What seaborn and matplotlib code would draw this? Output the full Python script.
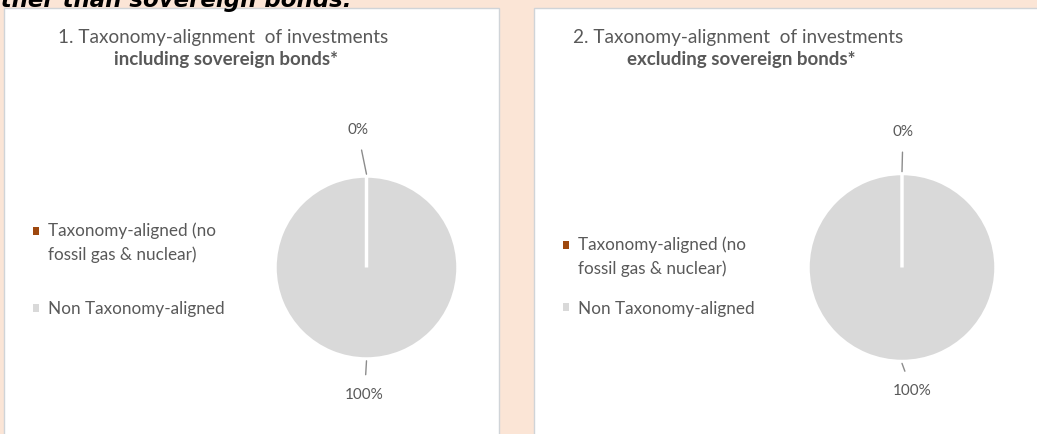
import matplotlib
matplotlib.use("Agg")
import matplotlib.pyplot as plt
from matplotlib.patches import Rectangle, Patch
import numpy as np
import seaborn as sns

# data
categories = ["Taxonomy-aligned (no\nfossil gas & nuclear)", "Non Taxonomy-aligned"]
incl_sovereign = [0, 100]
excl_sovereign = [0, 100]
pct_labels = ["0%", "100%"]
titles = ["1. Taxonomy-alignment  of investments", "2. Taxonomy-alignment  of investments"]
subtitles = ["including sovereign bonds*", "excluding sovereign bonds*"]
header_text = "other than sovereign bonds."

sns.set_theme(style="white")
plt.rcParams['font.family'] = ['Lato', 'DejaVu Sans']
colors = sns.color_palette(["#9E480E", "#D9D9D9"])
txt = "#595959"
W, H = 1037, 434

fig = plt.figure(figsize=(W / 100, H / 100), dpi=100)
fig.patch.set_facecolor("#FBE5D6")

# cut-off header line from the page above
fig.text(-15 / W, 1 - 7 / H, header_text, fontsize=16.5, fontweight="bold",
         fontstyle="italic", family="DejaVu Sans", color="black", va="baseline")

# white panels behind the charts
for x0, x1 in [(4, 499), (534, 1045)]:
    fig.patches.append(Rectangle((x0 / W, -0.05), (x1 - x0) / W, (H - 8) / H + 0.05,
                                 transform=fig.transFigure, facecolor="white",
                                 edgecolor="#D0D4D8", linewidth=1, zorder=-5))

panels = [
    dict(vals=incl_sovereign, cx=366.5, cy=267.5, r=91.5, tx=223, leg=(33, 222),
         lsp=2.25, offs=[(-9, 1.50), (-2, 1.39)]),
    dict(vals=excl_sovereign, cx=902, cy=267.5, r=94, tx=738, leg=(563, 236),
         lsp=1.4, offs=[(1, 1.44), (10, 1.31)]),
]

for i, p in enumerate(panels):
    r = p["r"]
    ax = fig.add_axes([(p["cx"] - r) / W, (H - p["cy"] - r) / H, 2 * r / W, 2 * r / H])
    ax.patch.set_alpha(0)
    wedges, _ = ax.pie(p["vals"], colors=colors, startangle=90, counterclock=False,
                       wedgeprops=dict(edgecolor="white", linewidth=2.5))
    # keep the zero-size slice's white border visible on top
    wedges[0].set_zorder(5)
    ax.set_xlim(-1, 1)
    ax.set_ylim(-1, 1)
    ax.set_aspect("auto")
    ax.axis("off")

    # data labels with leader lines
    for w, lab, (dx, dr) in zip(wedges, pct_labels, p["offs"]):
        ang = np.deg2rad((w.theta1 + w.theta2) / 2)
        x, y = np.cos(ang), np.sin(ang)
        ax.annotate(lab, xy=(x * 1.02, y * 1.02),
                    xytext=(x * dr + dx / r, y * dr), ha="center", va="center",
                    fontsize=11, color=txt, annotation_clip=False,
                    arrowprops=dict(arrowstyle="-", color="#8C8C8C", lw=1,
                                    shrinkA=7, shrinkB=0))

    fig.text(p["tx"] / W, 1 - 37 / H, titles[i], ha="center", va="center",
             fontsize=13.7, color=txt)
    fig.text((p["tx"] + 3) / W, 1 - 59 / H, subtitles[i], ha="center", va="center",
             fontsize=13.5, color=txt, fontweight="bold")

    handles = [Patch(facecolor=c, edgecolor="none") for c in colors]
    leg = ax.legend(handles, categories, loc="upper left",
                    bbox_to_anchor=(p["leg"][0] / W, 1 - p["leg"][1] / H),
                    bbox_transform=fig.transFigure, frameon=False, fontsize=12.3,
                    labelcolor=txt, handlelength=0.35, handleheight=0.35,
                    handletextpad=0.55, labelspacing=p["lsp"], borderpad=0,
                    borderaxespad=0)
    for t in leg.get_texts():
        t.set_linespacing(1.55)
    # put the marker beside the first line of the two-line entry
    h0 = leg.legend_handles[0]
    h0.set_y(h0.get_y() + 8.5)

fig.savefig("out.png", dpi=100, facecolor=fig.get_facecolor())
